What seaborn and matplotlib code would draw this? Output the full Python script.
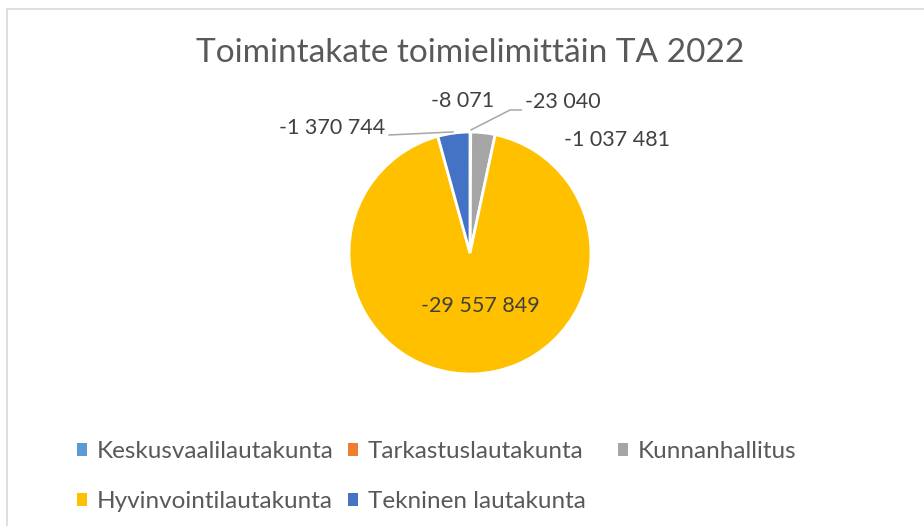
import numpy as np
import matplotlib
matplotlib.use("Agg")
import matplotlib.pyplot as plt
from matplotlib.patches import Patch, Rectangle
import seaborn as sns

# ---- data ----
categories = ["Keskusvaalilautakunta", "Tarkastuslautakunta", "Kunnanhallitus",
              "Hyvinvointilautakunta", "Tekninen lautakunta"]
values = [-8071, -23040, -1037481, -29557849, -1370744]
colors = ["#5B9BD5", "#ED7D31", "#A5A5A5", "#FFC000", "#4472C4"]
title = "Toimintakate toimielimittäin TA 2022"

sns.set_theme(style="white")
palette = sns.color_palette(colors)
plt.rcParams["font.family"] = ["Lato", "DejaVu Sans"]

W, H = 924, 526
fig = plt.figure(figsize=(W / 100, H / 100), dpi=100)
fig.patch.set_facecolor("white")

# pie axes: centre (470,253) px, radius 121 px
cx, cy, r = 470, 253, 121
ax = fig.add_axes([(cx - r) / W, (H - cy - r) / H, 2 * r / W, 2 * r / H])
ax.set_aspect("equal")

abs_vals = np.abs(values)
wedges, _ = ax.pie(abs_vals, colors=palette, startangle=90, counterclock=False,
                   radius=1.0, wedgeprops=dict(edgecolor="white", linewidth=2.0))
ax.set_xlim(-1, 1)
ax.set_ylim(-1, 1)
ax.axis("off")


def fmt(v):
    s = f"{abs(v):,}".replace(",", " ")
    return "-" + s if v < 0 else s


# label positions (data units, 1 = radius)
label_pos = [(-0.062, 1.256), (0.77, 1.25), (1.212, 0.93), (0.083, -0.434), (-1.14, 1.033)]
for v, (x, y) in zip(values, label_pos):
    ax.text(x, y, fmt(v), ha="center", va="center", fontsize=15.5,
            color="#404040", clip_on=False)

# leader lines to slice arc midpoints
fr = abs_vals / abs_vals.sum()
cum = np.cumsum(fr) - fr / 2
mid_ang = np.deg2rad(90 - cum * 360)
lc = "#A6A6A6"
# Tarkastuslautakunta
mx, my = np.cos(mid_ang[1]) * 1.015, np.sin(mid_ang[1]) * 1.015
ax.plot([mx, 0.331, 0.43], [my, 1.182, 1.182], color=lc, lw=1.1, clip_on=False,
        solid_capstyle="butt")
# Tekninen lautakunta
mx, my = np.cos(mid_ang[4]) * 1.0, np.sin(mid_ang[4]) * 1.0
ax.plot([-0.675, mx], [0.975, my + 0.01], color=lc, lw=1.1, clip_on=False,
        solid_capstyle="butt")

# title
fig.text(470.5 / W, 1 - 53.5 / H, title, ha="center", va="center",
         fontsize=24, color="#595959")

# legend entries laid out as in the reference (fixed column width)
leg_fs = 17.5
hl = 10 / (leg_fs * 100 / 72)
leg_pos = [(77, 451.5), (348, 451.5), (618, 451.5), (77, 501.5), (348, 501.5)]
for cat, col, (lx, ly) in zip(categories, palette, leg_pos):
    leg = fig.legend(handles=[Patch(facecolor=col, edgecolor="none")], labels=[cat],
                     loc="center left", bbox_to_anchor=(lx / W, 1 - ly / H),
                     frameon=False, borderpad=0, borderaxespad=0,
                     handlelength=hl, handleheight=hl, handletextpad=hl,
                     fontsize=leg_fs, labelcolor="#595959")

# chart border (partially cropped in the reference)
fig.patches.append(Rectangle((7.5 / W, -0.05), 1.0, 1.05 - 9.5 / H,
                             transform=fig.transFigure, fill=False,
                             edgecolor="#D9D9D9", linewidth=1.2))

fig.savefig("out.png", dpi=100, facecolor="white")
